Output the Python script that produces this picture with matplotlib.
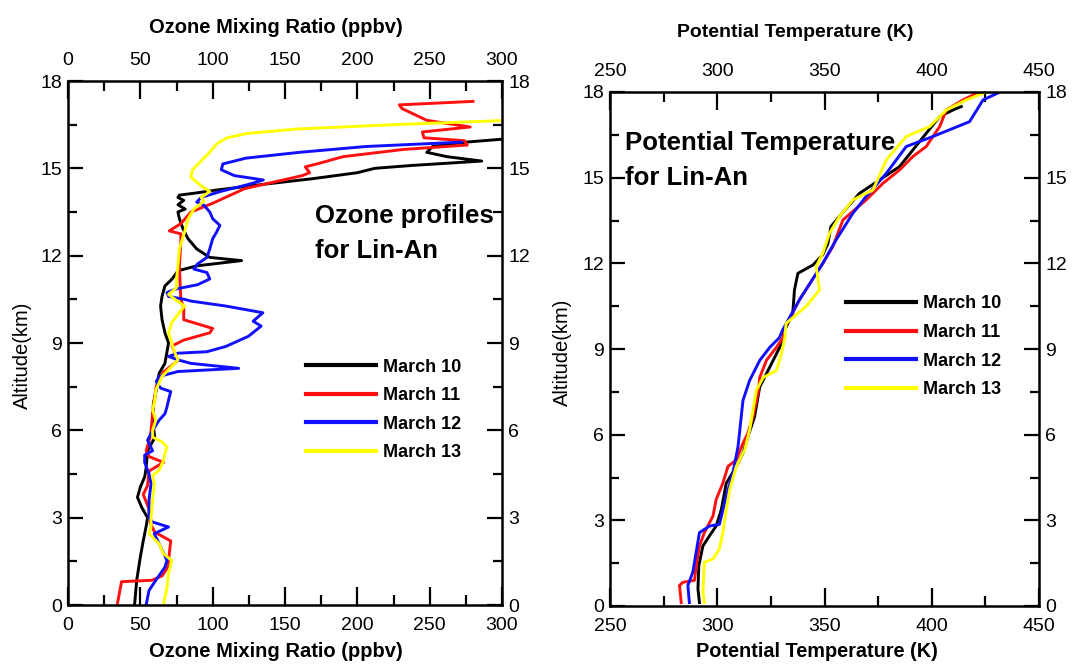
import matplotlib
matplotlib.use("Agg")
import matplotlib.pyplot as plt
from matplotlib.ticker import MultipleLocator

plt.rcParams['font.family'] = ['Liberation Sans', 'DejaVu Sans']

# ---------------- Data ----------------
series_labels = ["March 10", "March 11", "March 12", "March 13"]
series_colors = ["#000000", "#ff1010", "#1010ff", "#ffff00"]

# Ozone mixing ratio (ppbv) vs altitude (km)
o3_alt_m10 = [0.0, 0.85, 1.65, 2.2, 2.7, 3.0, 3.35, 3.7, 4.05, 4.4, 4.7, 5.3, 5.75, 6.3, 6.9, 7.4,
              7.96, 8.3, 9.0, 9.35, 9.8, 10.27, 10.6, 10.96, 11.2, 11.48, 11.65, 11.83, 11.94, 12.23,
              12.58, 12.92, 13.27, 13.5, 13.6, 13.75, 13.9, 14.0, 14.08, 14.15, 14.25, 14.45, 14.65,
              14.85, 15.0, 15.1, 15.25, 15.4, 15.55, 15.75, 15.9, 16.0]
o3_val_m10 = [46, 47.5, 50, 52, 54, 55, 51, 48, 50, 53, 54, 55, 60, 58.5, 59, 61,
              63, 67, 69.5, 67, 65, 64, 65, 67, 72, 76, 89, 120, 98, 89,
              83, 79.5, 77, 76, 81, 76, 80, 76, 77, 88, 102, 135, 170,
              200, 212, 238, 286, 262, 248, 252, 275, 300]

o3_alt_m11 = [0.0, 0.8, 0.85, 1.0, 1.3, 2.2, 2.5, 2.8, 3.3, 3.8, 4.1, 4.6, 4.9, 5.1, 5.3, 5.8, 6.3,
              6.8, 7.5, 8.0, 8.4, 8.9, 9.1, 9.35, 9.5, 9.8, 10.2, 10.5, 11.6, 12.5, 12.75, 12.85,
              13.1, 13.5, 13.8, 14.3, 14.75, 14.85, 15.05, 15.15, 15.4, 15.65, 15.8, 15.95, 16.05,
              16.25, 16.42, 16.65, 17.05, 17.18, 17.3]
o3_val_m11 = [34, 37, 58, 65, 69, 71, 60, 57, 56, 52, 55, 56, 66, 56, 54, 57, 58,
              59, 61, 66, 76, 72, 80, 98, 100, 80, 80, 78, 77, 78, 78, 70,
              78, 85, 100, 122, 162, 167, 164, 172, 190, 232, 276, 274, 246,
              245, 278, 248, 231, 229, 280]

o3_alt_m12 = [0.0, 0.5, 0.85, 1.3, 1.53, 2.0, 2.45, 2.68, 2.85, 3.0, 3.6, 4.17, 4.5, 4.9, 5.15, 5.3,
              5.66, 6.0, 6.35, 6.57, 6.8, 7.04, 7.33, 7.45, 7.67, 7.85, 8.02, 8.13, 8.3, 8.42, 8.54,
              8.65, 8.7, 8.88, 9.23, 9.58, 9.75, 10.04, 10.27, 10.44, 10.5, 10.6, 10.73, 10.85, 11.0,
              11.2, 11.42, 11.54, 11.71, 11.94, 12.23, 12.58, 12.8, 13.04, 13.27, 13.5, 13.73, 13.84,
              14.0, 14.2, 14.45, 14.6, 14.75, 14.95, 15.15, 15.35, 15.55, 15.75, 15.9]
o3_val_m12 = [54, 56, 60.7, 67, 68.4, 64, 59.6, 69.5, 58.5, 56, 56, 57.4, 56, 53, 53, 58.5,
              55, 58.5, 63, 67, 68.4, 69.5, 71, 64, 61, 63, 76, 118, 85, 76, 69.5,
              76, 96, 109, 124.7, 133.5, 128, 134.7, 109, 85, 80.5, 69.5, 68.4, 74, 89.4,
              98, 96, 87, 89.4, 96, 98, 100, 102.6, 105, 100, 98, 94, 89,
              92, 105, 125, 135, 115, 106, 107, 123, 160, 206, 272]

o3_alt_m13 = [0.0, 0.6, 1.08, 1.53, 1.76, 2.1, 2.45, 2.68, 3.0, 3.6, 4.17, 4.45, 4.63, 4.97, 5.2,
              5.43, 5.6, 5.77, 6.0, 6.35, 6.7, 7.03, 7.38, 7.85, 8.2, 8.42, 8.65, 9.0, 9.35, 9.7,
              9.98, 10.27, 10.5, 10.67, 10.9, 11.2, 11.65, 12.23, 12.8, 13.27, 13.6, 13.87, 14.0,
              14.2, 14.4, 14.7, 14.95, 15.2, 15.5, 15.85, 16.05, 16.2, 16.35, 16.5, 16.64]
o3_val_m13 = [66, 68.4, 69.5, 71.7, 66, 63, 56, 57.4, 57.4, 58.5, 59.6, 58.5, 63, 66, 67,
              68.4, 65, 58.5, 58.5, 60.7, 58.5, 60, 60.7, 65, 71.7, 76, 74, 71.7, 69.5, 71.7,
              76, 80.5, 74, 69.5, 75, 75, 76, 77, 80.5, 83, 87, 94, 92,
              98, 92, 85, 86, 91, 97, 103, 110, 124, 158, 225, 300]

# Potential temperature (K) vs altitude (km)
pt_alt_m10 = [0.12, 0.6, 1.41, 2.1, 2.46, 2.8, 3.38, 4.3, 4.89, 5.35, 5.93, 6.63, 7.67, 8.25, 8.83,
              9.3, 9.67, 10.25, 11.07, 11.65, 11.94, 12.3, 12.7, 13.29, 13.5, 13.99, 14.45, 14.92,
              15.39, 15.97, 16.55, 17.14, 17.37, 17.49]
pt_val_m10 = [291.7, 291.0, 291.4, 293.3, 296.4, 299.5, 301.9, 304.2, 308.9, 312.0, 314.3, 317.4,
              319.8, 323.7, 327.6, 330.7, 331.5, 335.2, 336.0, 337.6, 344.6, 349.2, 351.6, 353.0,
              355.4, 360.9, 366.3, 375.7, 385.0, 391.2, 397.4, 403.7, 409.9, 413.8]

pt_alt_m11 = [0.12, 0.72, 0.83, 0.9, 1.41, 2.1, 2.57, 3.15, 3.73, 4.3, 4.89, 5.12, 5.7, 6.05, 6.63,
              7.44, 8.0, 8.6, 9.06, 9.4, 9.67, 10.72, 12.0, 12.59, 13.52, 14.22, 14.8, 15.27, 15.74,
              16.09, 16.79, 17.37, 17.72, 18.0]
pt_val_m11 = [283.2, 282.4, 284.0, 289.4, 290.2, 291.7, 294.0, 298.0, 299.5, 302.6, 305.0, 308.9,
              312.0, 314.3, 316.6, 319.0, 319.8, 322.9, 327.6, 330.7, 331.0, 338.3, 349.2, 353.9,
              358.6, 369.4, 377.2, 385.0, 391.2, 397.4, 403.7, 406.8, 414.5, 422.3]

pt_alt_m12 = [0.12, 0.72, 1.18, 2.57, 2.8, 2.86, 3.85, 4.66, 5.59, 7.2, 7.9, 8.6, 9.06, 9.4, 9.67,
              10.72, 12.0, 12.82, 13.75, 14.34, 15.15, 16.09, 16.44, 16.96, 17.72, 18.05]
pt_val_m12 = [287.0, 286.3, 288.6, 291.7, 296.4, 301.0, 304.2, 307.3, 309.7, 312.0, 315.1, 319.8,
              324.5, 329.0, 330.5, 338.3, 349.2, 355.4, 363.2, 369.4, 378.8, 388.1, 400.5, 417.6,
              423.9, 433.2]

pt_alt_m13 = [0.12, 0.49, 1.53, 1.65, 2.0, 2.57, 3.38, 4.08, 4.89, 5.47, 6.16, 7.55, 8.0, 8.25,
              8.83, 9.4, 9.9, 10.49, 11.07, 11.89, 12.35, 13.05, 13.64, 14.22, 14.57, 15.62, 16.44,
              16.79, 17.37, 17.72, 18.0]
pt_val_m13 = [294.0, 293.3, 294.0, 298.0, 301.0, 302.6, 304.2, 305.8, 308.9, 312.8, 315.1, 318.2,
              321.4, 327.6, 329.9, 331.5, 332.1, 341.4, 347.7, 346.1, 349.2, 352.3, 357.0, 363.2,
              372.6, 378.8, 388.1, 399.0, 406.8, 416.1, 425.4]

o3_alts = [o3_alt_m10, o3_alt_m11, o3_alt_m12, o3_alt_m13]
o3_vals = [o3_val_m10, o3_val_m11, o3_val_m12, o3_val_m13]
pt_alts = [pt_alt_m10, pt_alt_m11, pt_alt_m12, pt_alt_m13]
pt_vals = [pt_val_m10, pt_val_m11, pt_val_m12, pt_val_m13]

# ---------------- Figure ----------------
W, H = 1092, 664
fig = plt.figure(figsize=(W / 100, H / 100), dpi=100)

def px_axes(x0, x1, y0, y1):
    return fig.add_axes([x0 / W, 1 - y1 / H, (x1 - x0) / W, (y1 - y0) / H])

def ftext(x, y, s, **kw):
    return fig.text(x / W, 1 - y / H, s, **kw)

ax1 = px_axes(68, 502, 81, 605)
ax2 = px_axes(610, 1039, 92, 606)

def style(ax, xlim, xmaj, xmin):
    ax.set_xlim(*xlim)
    ax.set_ylim(0, 18)
    ax.xaxis.set_major_locator(MultipleLocator(xmaj))
    ax.xaxis.set_minor_locator(MultipleLocator(xmin))
    ax.yaxis.set_major_locator(MultipleLocator(3))
    ax.yaxis.set_minor_locator(MultipleLocator(1.5))
    ax.tick_params(axis='both', which='both', direction='in', top=True, right=True,
                   labeltop=True, labelright=True, width=1.6, labelsize=14)
    ax.tick_params(axis='x', which='major', length=13, pad=8.5)
    ax.tick_params(axis='x', which='minor', length=7)
    ax.tick_params(axis='y', which='major', length=11, pad=4.5)
    ax.tick_params(axis='y', which='minor', length=6.5)
    for s in ax.spines.values():
        s.set_linewidth(1.8)

style(ax1, (0, 300), 50, 25)
style(ax2, (250, 450), 50, 25)

for a, v, lab, c in zip(o3_alts, o3_vals, series_labels, series_colors):
    ax1.plot(v, a, color=c, lw=2.1, label=lab)
for a, v, lab, c in zip(pt_alts, pt_vals, series_labels, series_colors):
    ax2.plot(v, a, color=c, lw=2.1, label=lab)

leg_kw = dict(loc='upper left', frameon=False, borderpad=0, borderaxespad=0, handlelength=3.9,
              handletextpad=0.35, labelspacing=0.64, prop={'weight': 'bold', 'size': 13})
leg1 = ax1.legend(bbox_to_anchor=((306 - 68) / 434, (605 - 358.5) / 524), **leg_kw)
leg2 = ax2.legend(bbox_to_anchor=((846 - 610) / 429, (606 - 295.5) / 514), **leg_kw)
for leg in (leg1, leg2):
    for l in leg.get_lines():
        l.set_linewidth(3.0)

# annotations
ann_kw = dict(fontsize=18.5, fontweight='bold', ha='left', va='baseline')
ftext(315, 223, "Ozone profiles", **ann_kw)
ftext(315, 258, "for Lin-An", **ann_kw)
ftext(625, 150, "Potential Temperature", **ann_kw)
ftext(625, 185, "for Lin-An", **ann_kw)

# axis titles
ftext(275.5, 33, "Ozone Mixing Ratio (ppbv)", ha='center', va='baseline',
      fontsize=14.5, fontweight='bold')
ftext(275.5, 657, "Ozone Mixing Ratio (ppbv)", ha='center', va='baseline',
      fontsize=14.5, fontweight='bold')
ftext(795, 37, "Potential Temperature (K)", ha='center', va='baseline',
      fontsize=14, fontweight='bold')
ftext(817, 657, "Potential Temperature (K)", ha='center', va='baseline',
      fontsize=14.3, fontweight='bold')
ftext(22, 355, "Altitude(km)", rotation=90, ha='center', va='center', fontsize=14.5)
ftext(562, 352, "Altitude(km)", rotation=90, ha='center', va='center', fontsize=14.5)

fig.savefig("out.png", dpi=100)
